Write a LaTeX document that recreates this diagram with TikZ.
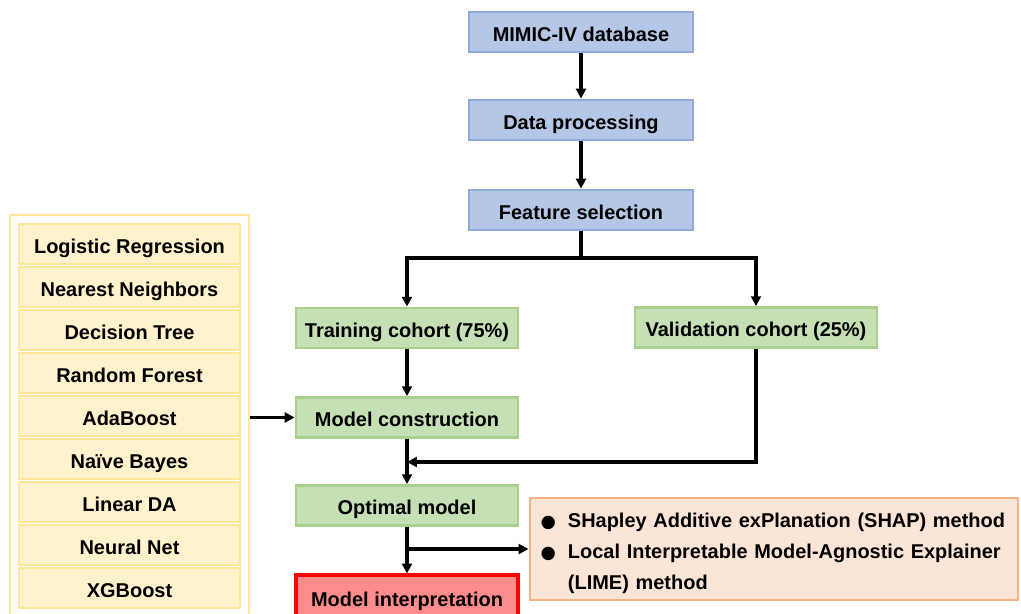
\documentclass[tikz,border=0pt]{standalone}
\usepackage{fontspec}
\setmainfont{Liberation Sans}
\newfontfamily\symfont{DejaVu Sans}
\usetikzlibrary{arrows.meta}
\definecolor{BlueFill}{RGB}{180, 199, 231}
\definecolor{BlueLine}{RGB}{143, 170, 220}
\definecolor{GreenFill}{RGB}{197, 224, 180}
\definecolor{GreenLine}{RGB}{169, 209, 142}
\definecolor{YellowFill}{RGB}{255, 242, 204}
\definecolor{YellowLine}{RGB}{255, 230, 153}
\definecolor{RedFill}{RGB}{255, 140, 140}
\definecolor{RedLine}{RGB}{255, 0, 0}
\definecolor{PeachFill}{RGB}{251, 229, 214}
\definecolor{PeachLine}{RGB}{244, 177, 131}
\tikzset{
    base box/.style = {draw, line width=2pt, minimum height=1cm, inner sep=2pt, text height=14pt, text depth=1pt, font=\fontsize{14.2}{17}\selectfont\bfseries},
    data box/.style = {base box, fill=BlueFill, draw=BlueLine, minimum width=5.6cm},
    cohort box/.style = {base box, fill=GreenFill, draw=GreenLine, minimum width=5.55cm},
    algo box/.style = {base box, fill=YellowFill, draw=YellowLine, minimum width=5.525cm},
    freccia/.style = {line width=2.4pt, -{Triangle[length=7pt, width=7pt]}}
}

\begin{document}
\begin{tikzpicture}[
        x=0.025cm, y=-0.025cm
    ]
    \useasboundingbox (0,0) rectangle (1021,613);

    % main chain
    \node[data box] (mimic) at (581,32)  {MIMIC-IV database};
    \node[data box] (proc)  at (581,120) {Data processing};
    \node[data box] (feat)  at (581,210) {Feature selection};

    \node[cohort box] (train) at (407,328) {Training cohort (75\%)};
    \node[cohort box, minimum width=6.05cm] (valid) at (756,327.5) {Validation cohort (25\%)};
    \node[cohort box] (build) at (407,417.5) {Model construction};
    \node[cohort box] (best)  at (407,505.5) {Optimal model};
    \node[base box, fill=RedFill, draw=RedLine, line width=2.2pt, minimum width=5.55cm, minimum height=1.1cm] (interp) at (407,597) {Model interpretation};

    % explainers
    \node[base box, fill=PeachFill, draw=PeachLine, minimum width=12.2cm, minimum height=2.55cm,
          text width=11.66cm, inner xsep=0.27cm, align=left, text height=, text depth=,
          font=\fontsize{14.2}{22}\selectfont\bfseries] (xai) at (774,549)
        {\rule{0pt}{17pt}\makebox[0.68cm][l]{\symfont\fontsize{12.5}{12}\selectfont ●}SHapley Additive exPlanation (SHAP) method\\
         \makebox[0.68cm][l]{\symfont\fontsize{12.5}{12}\selectfont ●}Local Interpretable Model-Agnostic Explainer\\
         \hspace*{0.68cm}(LIME) method};

    % candidate algorithms
    \node[draw=YellowLine, line width=2pt, fill=white, minimum width=5.975cm, minimum height=10.125cm] (algos) at (129.5,417.5) {};
    \foreach \nome [count=\i] in {Logistic Regression, Nearest Neighbors, Decision Tree, Random Forest, AdaBoost, Naïve Bayes, Linear DA, Neural Net, XGBoost}
        \node[algo box] (algo\i) at (129.5,{201+43*\i}) {\nome};

    \coordinate (split)  at (581,258);
    \coordinate (merge)  at (407,462);
    \coordinate (branch) at (407,549);

    \draw[freccia] (mimic) -- (proc);
    \draw[freccia] (proc) -- (feat);
    \draw[line width=2.4pt] (feat) -- (split);
    \draw[freccia] (split) -| (train.north);
    \draw[freccia] (split) -| (valid.north);
    \draw[freccia] (train) -- (build);
    \draw[freccia] (algos.east |- build.west) -- (build.west);
    \draw[freccia] (valid.south) |- (merge);
    \draw[freccia] (build) -- (best);
    \draw[freccia] (best) -- (interp);
    \draw[freccia] (branch) -- (branch -| xai.west);

\end{tikzpicture}
\end{document}
